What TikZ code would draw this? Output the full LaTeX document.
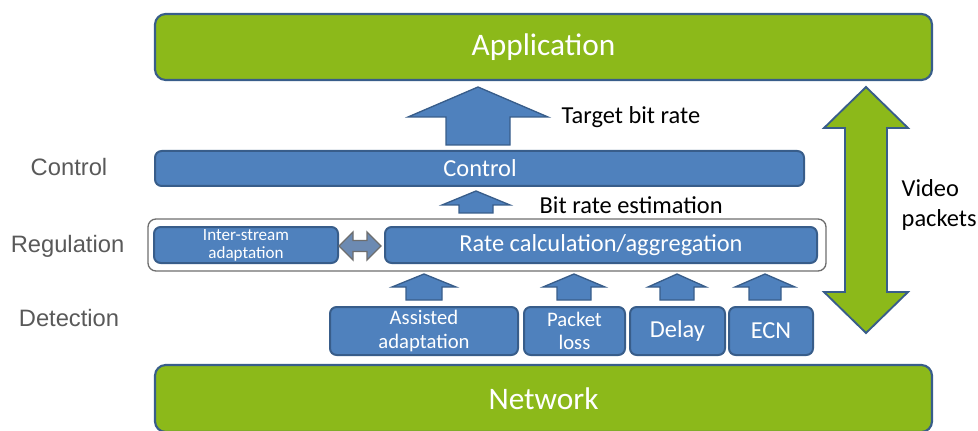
\documentclass[tikz,border=0pt]{standalone}
\usepackage{fontspec}
\setmainfont{Carlito}
\newfontfamily\sidefont{Liberation Sans}
\definecolor{appgreen}{RGB}{140,185,26}
\definecolor{boxblue}{RGB}{79,129,189}
\definecolor{edgeblue}{RGB}{56,93,138}
\definecolor{labelgray}{RGB}{89,89,89}
\definecolor{swapfill}{RGB}{108,138,178}
\definecolor{framegray}{RGB}{110,110,110}

% upward block arrow: centre x, tip y, head base y, bottom y, head half width, shaft half width
\newcommand{\blockup}[6]{%
  \draw[blockarrow] (#1,#2) -- ({#1+#5},#3) -- ({#1+#6},#3) -- ({#1+#6},#4)
    -- ({#1-#6},#4) -- ({#1-#6},#3) -- ({#1-#5},#3) -- cycle;}

\begin{document}
\begin{tikzpicture}[x=0.75pt,y=-0.75pt,
  layerbox/.style={draw=edgeblue,line width=1.6pt,fill=appgreen,rounded corners=8pt},
  layertext/.style={text=white,font=\fontsize{23.5}{26}\selectfont},
  bluebox/.style={draw=edgeblue,line width=1.5pt,fill=boxblue,rounded corners=5pt},
  boxtext/.style={text=white,font=\fontsize{18.3}{20}\selectfont,align=center},
  smalltext/.style={text=white,font=\fontsize{15.5}{17.5}\selectfont,align=center},
  blockarrow/.style={draw=edgeblue,line width=1pt,fill=boxblue},
  sidelabel/.style={text=labelgray,font=\sidefont\fontsize{17.8}{20}\selectfont},
  note/.style={text=black,font=\fontsize{18.3}{22}\selectfont,anchor=west}]
\useasboundingbox (0,0) rectangle (978,431);

% outer layers
\draw[layerbox] (155,14) rectangle (932,80);
\node[layertext] (app) at (543.5,47) {Application};
\draw[layerbox] (155,365) rectangle (932,432);
\node[layertext] (net) at (543.5,399) {Network};

% control layer
\draw[bluebox] (155,151) rectangle (804,186);
\node[boxtext] (ctrl) at (480,168.5) {Control};

% regulation layer
\draw[draw=framegray,line width=1pt,fill=white,rounded corners=6pt] (148,219) rectangle (826,271);
\draw[bluebox] (154,227) rectangle (338,263);
\node[text=white,font=\fontsize{12.8}{13.5}\selectfont,align=center] (inter) at (246,245) {Inter-stream\\adaptation};
\draw[bluebox] (385,227) rectangle (817,263);
\node[boxtext] (rate) at (601,245) {Rate calculation/aggregation};
\draw[draw=framegray,line width=1pt,fill=swapfill]
  (339,246) -- (353,232) -- (353,240.5) -- (367,240.5) -- (367,232) -- (381,246)
  -- (367,260) -- (367,251.5) -- (353,251.5) -- (353,260) -- cycle;

% detection layer
\draw[bluebox] (330,307) rectangle (518,355);
\node[smalltext] (assist) at (424,331) {Assisted\\adaptation};
\draw[bluebox] (524,307) rectangle (625,355);
\node[smalltext] (loss) at (574.5,331) {Packet\\loss};
\draw[bluebox] (630,307) rectangle (725,355);
\node[boxtext] (delay) at (677.5,331) {Delay};
\draw[bluebox] (729,307) rectangle (813,355);
\node[boxtext] (ecn) at (771,331) {ECN};

% signal arrows
\blockup{478}{87}{117}{145}{70}{32}
\blockup{476}{191}{205}{213}{34}{17}
\blockup{424}{274}{287}{300}{32}{18}
\blockup{574}{274}{287}{300}{31}{17}
\blockup{677}{274}{287}{300}{29}{17}
\blockup{765}{274}{287}{300}{30}{16}

% video packets path
\draw[draw=edgeblue,line width=1.4pt,fill=appgreen]
  (866,87) -- (908,128) -- (887,128) -- (887,292) -- (908,292) -- (866,333)
  -- (824,292) -- (845,292) -- (845,128) -- (824,128) -- cycle;

% labels
\node[note] (tbr) at (557,117) {Target bit rate};
\node[note] (bre) at (535,205) {Bit rate estimation};
\node[note,align=left] (vid) at (897,205) {Video\\packets};
\node[sidelabel] (lc) at (69,167) {Control};
\node[sidelabel] (lr) at (67.5,246) {Regulation};
\node[sidelabel] (ld) at (69,318) {Detection};
\end{tikzpicture}
\end{document}
